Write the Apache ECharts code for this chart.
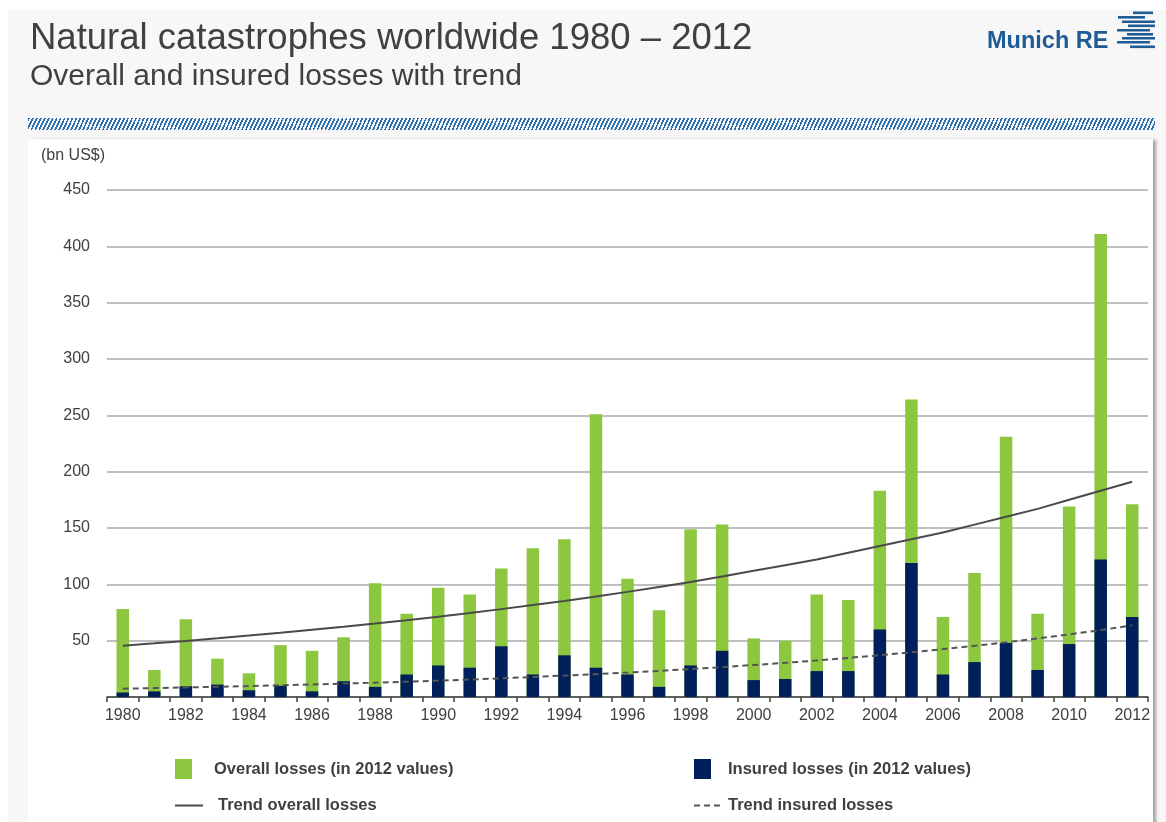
<!DOCTYPE html>
<html>
<head>
<meta charset="utf-8">
<title>Natural catastrophes worldwide 1980 – 2012</title>
<script src="https://cdn.jsdelivr.net/npm/echarts@6/dist/echarts.min.js"></script>
<style>
  html, body { margin: 0; padding: 0; background: #ffffff; }
  #stage { position: relative; width: 1166px; height: 822px; overflow: hidden; }
  #backdrop { position: absolute; left: 8px; top: 10px; right: 0; bottom: 0; background: #f7f7f7; }
  #hatch {
    position: absolute; left: 28px; top: 118px; width: 1127px; height: 12px;
    background: repeating-linear-gradient(115deg, #2c6fae 0px, #2c6fae 1.7px, rgba(247,247,247,0) 1.7px, rgba(247,247,247,0) 3.6px);
  }
  #panel { position: absolute; left: 28px; top: 139px; width: 1125px; height: 700px; background: #ffffff; box-shadow: 4px 0 3px -1px rgba(0,0,0,0.35); }
  #chart { position: absolute; left: 0; top: 0; width: 1166px; height: 822px; }
</style>
</head>
<body>
<div id="stage">
  <div id="backdrop"></div>
  <div id="hatch"></div>
  <div id="panel"></div>
  <div id="chart"></div>
</div>
<script>
// Years on the category axis
const years = ['1980','1981','1982','1983','1984','1985','1986','1987','1988','1989',
               '1990','1991','1992','1993','1994','1995','1996','1997','1998','1999',
               '2000','2001','2002','2003','2004','2005','2006','2007','2008','2009',
               '2010','2011','2012'];

// Overall losses, bn US$ (2012 values)
const overallLosses = [78, 24, 69, 34, 21, 46, 41, 53, 101, 74,
                       97, 91, 114, 132, 140, 251, 105, 77, 149, 153,
                       52, 50, 91, 86, 183, 264, 71, 110, 231, 74,
                       169, 411, 171];

// Insured losses, bn US$ (2012 values)
const insuredLosses = [4, 5, 9.5, 11, 6, 10, 5, 14, 9, 20,
                       28, 26, 45, 20, 37, 26, 20, 9, 28, 41,
                       15, 16, 23, 23, 60, 119, 20, 31, 48, 24,
                       47, 122, 71];

// Trend of overall losses
const trendOverall = [45.5, 47.6, 49.8, 52.1, 54.5, 57, 59.6, 62.3, 65.2, 68.2,
                      71.3, 74.6, 78, 81.6, 85.3, 89.2, 93.3, 97.6, 102, 107,
                      112, 117, 122, 128, 134, 140, 146, 153, 160, 167,
                      175, 183, 191];

// Trend of insured losses
const trendInsured = [7.4, 7.9, 8.5, 9.1, 9.7, 10.4, 11.1, 11.9, 12.7, 13.6,
                      14.5, 15.5, 16.6, 17.8, 19, 20.3, 21.7, 23.2, 24.8, 26.5,
                      28.4, 30.3, 32.4, 34.7, 37.1, 39.7, 42.5, 45.4, 48.6, 52,
                      55.6, 59.4, 63.6];

// Y axis scale
const yMin = 0, yMax = 450, yStep = 50;

const FONT = "'Liberation Sans', Arial, Helvetica, sans-serif";
const TEXT = '#404040';
const GREEN = '#8dc63f';
const NAVY = '#00205b';
const BRAND = '#1f5b94';

const names = {
  overall: 'Overall losses (in 2012 values)',
  insured: 'Insured losses (in 2012 values)',
  tOverall: 'Trend overall losses',
  tInsured: 'Trend insured losses'
};

// Munich RE stripe mark: [x-start, y, x-end] per stripe
const logoStripes = [
  [1133, 11.5, 1153], [1118, 16, 1145], [1122, 20.5, 1155], [1128, 24.5, 1155],
  [1117, 29, 1150], [1127, 33, 1153], [1122, 37, 1155], [1117, 41, 1150],
  [1130, 45.5, 1155]
];

const chart = echarts.init(document.getElementById('chart'), null, { renderer: 'canvas' });

const legendText = { fontFamily: FONT, fontSize: 16.5, fontWeight: 'bold', color: TEXT };
const legendBase = { padding: 0, selectedMode: false, itemStyle: { opacity: 0 } };

chart.setOption({
  backgroundColor: 'transparent',
  animation: false,
  textStyle: { fontFamily: FONT },
  grid: { left: 107, right: 18, top: 190, bottom: 125, containLabel: false },
  graphic: [
    { type: 'text', left: 30, top: 20, style: { text: 'Natural catastrophes worldwide 1980 – 2012', font: '36.5px ' + FONT, fill: TEXT } },
    { type: 'text', left: 30, top: 62, style: { text: 'Overall and insured losses with trend', font: '30px ' + FONT, fill: TEXT } },
    { type: 'text', left: 987, top: 30, style: { text: 'Munich RE', font: 'bold 23.5px ' + FONT, fill: BRAND } },
    { type: 'text', left: 41, top: 148, style: { text: '(bn US$)', font: '16px ' + FONT, fill: TEXT } }
  ].concat(logoStripes.map(s => ({
    type: 'rect', shape: { x: s[0], y: s[1], width: s[2] - s[0], height: 2.6 }, style: { fill: BRAND }
  }))),
  legend: [
    Object.assign({}, legendBase, { data: [names.overall], left: 175, top: 759, itemWidth: 17, itemHeight: 20, icon: 'rect',
      itemStyle: { opacity: 1 }, textStyle: Object.assign({ padding: [0, 0, 0, 17] }, legendText) }),
    Object.assign({}, legendBase, { data: [names.insured], left: 694, top: 759, itemWidth: 17, itemHeight: 20, icon: 'rect',
      itemStyle: { opacity: 1 }, textStyle: Object.assign({ padding: [0, 0, 0, 12] }, legendText) }),
    Object.assign({}, legendBase, { data: [names.tOverall], left: 174, top: 797, itemWidth: 28, itemHeight: 18,
      lineStyle: { width: 2 }, textStyle: Object.assign({ padding: [0, 0, 0, 10] }, legendText) }),
    Object.assign({}, legendBase, { data: [names.tInsured], left: 693, top: 797, itemWidth: 27, itemHeight: 18,
      lineStyle: { width: 2 }, textStyle: Object.assign({ padding: [0, 0, 0, 2] }, legendText) })
  ],
  xAxis: {
    type: 'category',
    data: years,
    boundaryGap: true,
    axisLine: { lineStyle: { color: '#404040', width: 1.5 } },
    axisTick: { show: true, interval: 0, length: 5, lineStyle: { color: '#404040', width: 1.5 } },
    axisLabel: { interval: 1, color: TEXT, fontSize: 16, fontFamily: FONT, margin: 11 },
    splitLine: { show: false }
  },
  yAxis: {
    type: 'value',
    min: yMin, max: yMax, interval: yStep,
    axisLine: { show: false },
    axisTick: { show: false },
    axisLabel: {
      color: TEXT, fontSize: 16, fontFamily: FONT, margin: 17,
      formatter: v => (v === 0 ? '' : String(v))
    },
    splitLine: { lineStyle: { color: '#aaaaaa', width: 1.5 } }
  },
  series: [
    { name: names.overall, type: 'bar', data: overallLosses, barWidth: 12.5, barGap: '-100%',
      itemStyle: { color: GREEN }, z: 2 },
    { name: names.insured, type: 'bar', data: insuredLosses, barWidth: 12.5, barGap: '-100%',
      itemStyle: { color: NAVY }, z: 3 },
    { name: names.tOverall, type: 'line', data: trendOverall, symbol: 'none', smooth: false,
      lineStyle: { color: '#4a4a4a', width: 2 }, itemStyle: { color: '#4a4a4a' }, z: 5 },
    { name: names.tInsured, type: 'line', data: trendInsured, symbol: 'none', smooth: false,
      lineStyle: { color: '#555555', width: 2, type: [6, 4] }, itemStyle: { color: '#555555' }, z: 5 }
  ]
});
</script>
</body>
</html>
